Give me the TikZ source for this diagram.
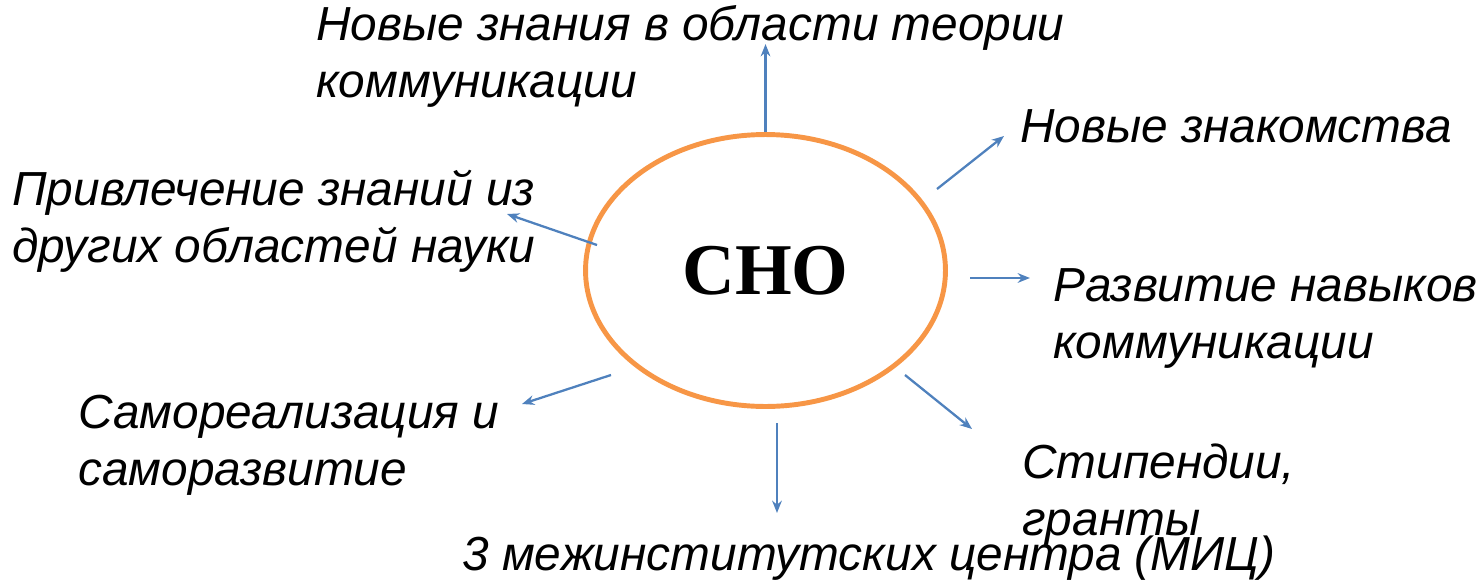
\documentclass[tikz,border=0pt]{standalone}
\usepackage{fontspec}
\setmainfont{Liberation Sans}
\newfontfamily\cnofont{Liberation Serif}
\usetikzlibrary{shapes.geometric,arrows.meta}
\definecolor{cnoorange}{RGB}{247,150,70}
\definecolor{arrowblue}{RGB}{79,129,189}

\begin{document}
\begin{tikzpicture}[x=0.02cm, y=-0.02cm]
\tikzstyle{lbl} = [anchor=base west, inner sep=0, align=left, font=\fontsize{27.2}{32.4}\selectfont\itshape]
\tikzstyle{arr} = [-{Stealth[length=7pt, width=5.5pt]}, draw=arrowblue, line width=1.3pt]
\useasboundingbox (0,0) rectangle (1481,582);

\node (cno) [ellipse, draw=cnoorange, line width=2.8pt, minimum width=7.2cm, minimum height=5.44cm, inner sep=0, font=\cnofont\fontsize{41.5}{45}\selectfont\bfseries] at (765.5,270.5) {СНО};

% labels, anchored at the baseline of their last line
\node (theory) [lbl] at (316,97) {Новые знания в области теории\\коммуникации};
\node (contacts) [lbl] at (1020,142) {Новые знакомства};
\node (skills) [lbl] at (1053,358) {Развитие навыков\\коммуникации};
\node (grants) [lbl] at (1022,535) {Стипендии,\\гранты};
\node (mic) [lbl] at (462,570) {3 межинститутских центра (МИЦ)};
\node (selfreal) [lbl] at (78,485) {Самореализация и\\саморазвитие};
\node (other) [lbl] at (12,262) {Привлечение знаний из\\других областей науки};

% arrow ends
\coordinate (a2) at (937,189); \coordinate (b2) at (1004,136);
\coordinate (a3) at (970,278); \coordinate (b3) at (1030,278);
\coordinate (a4) at (905,375); \coordinate (b4) at (972,429);
\coordinate (a5) at (777,423); \coordinate (b5) at (777,513);
\coordinate (a6) at (611,375); \coordinate (b6) at (522,404);
\coordinate (a7) at (597,245); \coordinate (b7) at (507,214);

\draw[arr] (cno.north) -- +(0,-88);
\draw[arr] (a2) -- (b2);
\draw[arr] (a3) -- (b3);
\draw[arr] (a4) -- (b4);
\draw[arr] (a5) -- (b5);
\draw[arr] (a6) -- (b6);
\draw[arr] (a7) -- (b7);

\end{tikzpicture}
\end{document}
